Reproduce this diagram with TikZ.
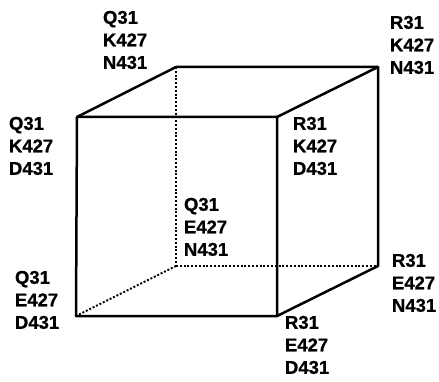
\documentclass[tikz,border=0pt]{standalone}
\usepackage{fontspec}
\setmainfont{Liberation Sans}[Ligatures=TeX,BoldFeatures={FakeBold=0.6}]
\tikzset{
  x=1pt,y=-1pt,
  solidedge/.style={line width=2.5pt,black,line cap=round,line join=round},
  hiddenedge/.style={line width=1.8pt,black,dash pattern=on 2pt off 1.8pt},
  lab/.style={anchor=south west,inner sep=0pt,outer sep=0pt,align=left,font=\fontsize{18.5}{22.5}\selectfont\bfseries,text=black}
}
\begin{document}
\begin{tikzpicture}
\useasboundingbox (0,0) rectangle (439,382);
% cube corners
\coordinate (ftl) at (77,117);
\coordinate (ftr) at (277,117);
\coordinate (fbl) at (76,316);
\coordinate (fbr) at (277,316);
\coordinate (btl) at (176,67);
\coordinate (btr) at (378,67);
\coordinate (bbl) at (176,266);
\coordinate (bbr) at (378,266);
% hidden edges
\draw[hiddenedge] (btl) -- (bbl);
\draw[hiddenedge] (bbl) -- (bbr);
\draw[hiddenedge] (bbl) -- (fbl);
% visible edges
\draw[solidedge] (ftl) -- (ftr) -- (fbr) -- (fbl) -- cycle;
\draw[solidedge] (ftl) -- (btl) -- (btr) -- (bbr) -- (fbr);
\draw[solidedge] (ftr) -- (btr);
% labels (south west = last baseline)
\node[lab] (qkn) at (103,69) {Q31\\K427\\N431};
\node[lab] (rkn) at (390,74) {R31\\K427\\N431};
\node[lab] (qkd) at (9,175) {Q31\\K427\\D431};
\node[lab] (rkd) at (293,175) {R31\\K427\\D431};
\node[lab] (qen) at (184,256) {Q31\\E427\\N431};
\node[lab] (ren) at (392,312) {R31\\E427\\N431};
\node[lab] (qed) at (15,329) {Q31\\E427\\D431};
\node[lab] (red) at (285,374) {R31\\E427\\D431};
\end{tikzpicture}
\end{document}
